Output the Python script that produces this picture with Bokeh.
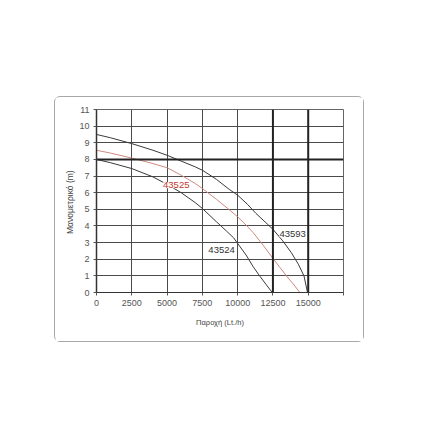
from bokeh.plotting import figure
from bokeh.layouts import column
from bokeh.models import Span, Label, FixedTicker
from bokeh.embed import file_html
from bokeh.resources import INLINE

# ---- data (flow in Lt/h, head in m) ----
flow_43593 = [0, 1000, 2500, 4000, 5000, 6000, 7000, 7500, 8500, 9400, 10000,
              10700, 11300, 12000, 12500, 13200, 13800, 14300, 14700, 14950]
head_43593 = [9.5, 9.3, 8.95, 8.55, 8.25, 7.9, 7.55, 7.35, 6.8, 6.2, 5.85,
              5.3, 4.75, 4.2, 3.8, 3.1, 2.4, 1.7, 1.0, 0]

flow_43525 = [0, 1000, 2500, 4000, 5000, 6000, 7000, 7500, 8500, 9300, 10000,
              10600, 11100, 11800, 12500, 13000, 13500, 14000, 14400]
head_43525 = [8.55, 8.38, 8.08, 7.75, 7.5, 7.05, 6.55, 6.25, 5.6, 5.05, 4.55,
              4.05, 3.6, 2.85, 2.05, 1.5, 0.95, 0.45, 0]

flow_43524 = [0, 1000, 2500, 4000, 5000, 6000, 7000, 7500, 8500, 9200, 9700,
              10000, 10600, 11100, 11600, 12000, 12450]
head_43524 = [8.0, 7.8, 7.45, 6.95, 6.5, 6.0, 5.4, 5.05, 4.25, 3.7, 3.3,
              2.95, 2.25, 1.55, 0.95, 0.5, 0]

curve_names = ["43593", "43525", "43524"]
label_x = [13900, 5650, 8860]
label_y = [3.5, 6.45, 2.58]

x_ticks = [0, 2500, 5000, 7500, 10000, 12500, 15000, 17500]
y_ticks = list(range(0, 12))
thick_x = [12500, 15000]
thick_y = [8]

FONT = "Liberation Sans"
GRID = "#4a4a4a"


def get_figure():
    return figure(
        width=308, height=244,
        x_range=(0, 17500), y_range=(0, 11),
        output_backend="svg", toolbar_location=None,
        min_border_left=41, min_border_right=20,
        min_border_top=12, min_border_bottom=49,
        x_axis_label="Παροχή (Lt./h)",
        y_axis_label="Μανομετρικό  (m)",
    )


def configure_plot(p):
    p.xaxis.ticker = FixedTicker(ticks=x_ticks, minor_ticks=[])
    p.yaxis.ticker = FixedTicker(ticks=y_ticks, minor_ticks=[])
    p.xaxis.major_label_overrides = {17500: ""}
    p.xgrid.ticker = FixedTicker(ticks=x_ticks, minor_ticks=[])
    p.ygrid.ticker = FixedTicker(ticks=y_ticks, minor_ticks=[])
    p.grid.grid_line_color = GRID
    p.grid.grid_line_alpha = 1
    p.grid.grid_line_width = 1
    p.axis.minor_tick_line_color = None
    p.axis.major_tick_in = 0
    p.axis.major_tick_out = 3
    p.axis.major_tick_line_color = "#555555"
    p.axis.axis_line_color = "#333333"
    p.yaxis.axis_line_width = 1.5
    p.axis.major_label_text_font = FONT
    p.axis.major_label_text_font_size = "9px"
    p.axis.major_label_text_color = "#555555"
    p.axis.major_label_standoff = 4
    p.axis.axis_label_text_font = FONT
    p.axis.axis_label_text_font_style = "normal"
    p.axis.axis_label_text_color = "#444444"
    p.xaxis.axis_label_text_font_size = "7.5px"
    p.yaxis.axis_label_text_font_size = "8.5px"
    p.xaxis.axis_label_standoff = 9
    p.yaxis.axis_label_standoff = 1
    p.outline_line_color = "#666666"
    p.outline_line_width = 1

    for loc in thick_x:
        p.add_layout(Span(location=loc, dimension="height",
                          line_color="#222222", line_width=2))
    for loc in thick_y:
        p.add_layout(Span(location=loc, dimension="width",
                          line_color="#222222", line_width=2))


p = get_figure()
configure_plot(p)

p.line(flow_43593, head_43593, line_color="#3a3a3a", line_width=1)
p.line(flow_43525, head_43525, line_color="#cf8a80", line_width=1)
p.line(flow_43524, head_43524, line_color="#3a3a3a", line_width=1)

label_colors = ["#333333", "#c0392b", "#333333"]
for name, lx, ly, col in zip(curve_names, label_x, label_y, label_colors):
    p.add_layout(Label(x=lx, y=ly, text=name, text_align="center",
                       text_baseline="middle", text_font=FONT,
                       text_font_size="9.5px", text_color=col,
                       background_fill_color="white"))

# rounded grey frame around the whole chart
layout = column(p, margin=(96, 0, 0, 54),
                styles={"border": "1px solid #a8a8a8", "border-radius": "6px",
                        "padding": "0px"})

open("out.html", "w").write(file_html(layout, INLINE))
